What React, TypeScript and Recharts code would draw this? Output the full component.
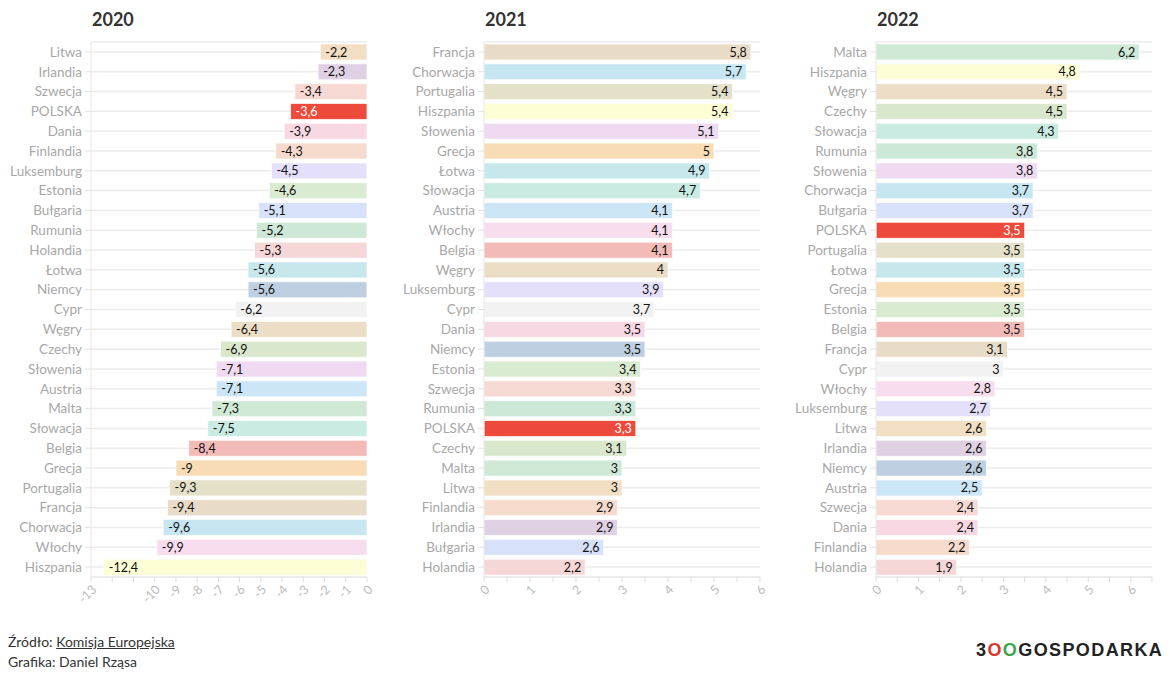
import { BarChart, Bar, XAxis, YAxis, CartesianGrid, Cell, LabelList } from 'recharts'

const countries2020 = ['Litwa', 'Irlandia', 'Szwecja', 'POLSKA', 'Dania', 'Finlandia', 'Luksemburg', 'Estonia', 'Bułgaria', 'Rumunia', 'Holandia', 'Łotwa', 'Niemcy', 'Cypr', 'Węgry', 'Czechy', 'Słowenia', 'Austria', 'Malta', 'Słowacja', 'Belgia', 'Grecja', 'Portugalia', 'Francja', 'Chorwacja', 'Włochy', 'Hiszpania']
const values2020 = [-2.2, -2.3, -3.4, -3.6, -3.9, -4.3, -4.5, -4.6, -5.1, -5.2, -5.3, -5.6, -5.6, -6.2, -6.4, -6.9, -7.1, -7.1, -7.3, -7.5, -8.4, -9, -9.3, -9.4, -9.6, -9.9, -12.4]

const countries2021 = ['Francja', 'Chorwacja', 'Portugalia', 'Hiszpania', 'Słowenia', 'Grecja', 'Łotwa', 'Słowacja', 'Austria', 'Włochy', 'Belgia', 'Węgry', 'Luksemburg', 'Cypr', 'Dania', 'Niemcy', 'Estonia', 'Szwecja', 'Rumunia', 'POLSKA', 'Czechy', 'Malta', 'Litwa', 'Finlandia', 'Irlandia', 'Bułgaria', 'Holandia']
const values2021 = [5.8, 5.7, 5.4, 5.4, 5.1, 5, 4.9, 4.7, 4.1, 4.1, 4.1, 4, 3.9, 3.7, 3.5, 3.5, 3.4, 3.3, 3.3, 3.3, 3.1, 3, 3, 2.9, 2.9, 2.6, 2.2]

const countries2022 = ['Malta', 'Hiszpania', 'Węgry', 'Czechy', 'Słowacja', 'Rumunia', 'Słowenia', 'Chorwacja', 'Bułgaria', 'POLSKA', 'Portugalia', 'Łotwa', 'Grecja', 'Estonia', 'Belgia', 'Francja', 'Cypr', 'Włochy', 'Luksemburg', 'Litwa', 'Irlandia', 'Niemcy', 'Austria', 'Szwecja', 'Dania', 'Finlandia', 'Holandia']
const values2022 = [6.2, 4.8, 4.5, 4.5, 4.3, 3.8, 3.8, 3.7, 3.7, 3.5, 3.5, 3.5, 3.5, 3.5, 3.5, 3.1, 3, 2.8, 2.7, 2.6, 2.6, 2.6, 2.5, 2.4, 2.4, 2.2, 1.9]

const ticks2020 = [-13, -12, -11, -10, -9, -8, -7, -6, -5, -4, -3, -2, -1, 0]
const hidden2020 = [-12, -11]
const ticks2021 = [0, 0.5, 1, 1.5, 2, 2.5, 3, 3.5, 4, 4.5, 5, 5.5, 6]
const ticks2022 = [0, 0.5, 1, 1.5, 2, 2.5, 3, 3.5, 4, 4.5, 5, 5.5, 6, 6.5]

// kolory krajów (te same we wszystkich panelach)
const colors: Record<string, string> = {
  Litwa: '#f2dec3',
  Irlandia: '#e0d0e3',
  Szwecja: '#f7d9d3',
  POLSKA: '#ee4a3b',
  Dania: '#f8d8e2',
  Finlandia: '#f6dbcd',
  Luksemburg: '#e4e0fb',
  Estonia: '#d9ebd0',
  Bułgaria: '#d7e2fa',
  Rumunia: '#cde8d7',
  Holandia: '#f6d7d8',
  Łotwa: '#c6e7ec',
  Niemcy: '#bdcfe0',
  Cypr: '#f2f2f2',
  Węgry: '#ecdec6',
  Czechy: '#d9e8cd',
  Słowenia: '#efdaf2',
  Austria: '#cce6f8',
  Malta: '#d0e8d6',
  Słowacja: '#c9ebe1',
  Belgia: '#f2bbb7',
  Grecja: '#f8dcb5',
  Portugalia: '#e4e1c8',
  Francja: '#e8dcc8',
  Chorwacja: '#c6e6f1',
  Włochy: '#f7dded',
  Hiszpania: '#fdfdd6',
}

const FONT = 'Lato, "Source Sans Pro", sans-serif'
const fmt = (v: number) => String(v).replace('.', ',')

function build(names: string[], values: number[]) {
  return names.map((name, i) => ({ name, value: values[i] }))
}

function ValueLabel(props: any) {
  const { x, y, width, height, value, index, names, side } = props
  const left = Math.min(x, x + width)
  const right = Math.max(x, x + width)
  const isPl = names[index] === 'POLSKA'
  return (
    <text
      x={side === 'start' ? left + 5 : right - 4}
      y={y + height / 2}
      dy="0.36em"
      textAnchor={side === 'start' ? 'start' : 'end'}
      fontSize={12.5}
      fontFamily={FONT}
      fill={isPl ? '#fff' : '#111'}
    >
      {fmt(value)}
    </text>
  )
}

interface PanelProps {
  title: string
  names: string[]
  values: number[]
  domain: [number, number]
  ticks: number[]
  tickFmt: (v: number) => string
  left: number
  width: number
  yWidth: number
  rightMargin: number
  side: 'start' | 'end'
}

function Panel({ title, names, values, domain, ticks, tickFmt, left, width, yWidth, rightMargin, side }: PanelProps) {
  const data = build(names, values)
  return (
    <div style={{ position: 'absolute', left, top: 0, width, height: 630 }}>
      <div
        style={{
          position: 'absolute',
          left: yWidth + 1,
          top: 8,
          fontFamily: FONT,
          fontWeight: 700,
          fontSize: 18,
          color: '#333',
        }}
      >
        {title}
      </div>
      <BarChart
        width={width}
        height={630}
        data={data}
        layout="vertical"
        margin={{ top: 42, right: rightMargin, bottom: 23, left: 0 }}
        barCategoryGap={2}
      >
        <CartesianGrid vertical={false} stroke="#ececec" strokeWidth={1.5} />
        <XAxis
          type="number"
          domain={domain}
          ticks={ticks}
          interval={0}
          height={30}
          tickFormatter={tickFmt}
          axisLine={{ stroke: '#e8e8e8' }}
          tickLine={{ stroke: '#ddd' }}
          tickSize={5}
          angle={-45}
          textAnchor="end"
          tick={{ fill: '#bbb', fontSize: 12.5, fontFamily: FONT }}
          allowDataOverflow
        />
        <YAxis
          type="category"
          dataKey="name"
          width={yWidth}
          interval={0}
          axisLine={{ stroke: '#e6e6e6' }}
          tickLine={{ stroke: '#e2e2e2' }}
          tickSize={6}
          tickMargin={3}
          tick={{ fill: '#a8a8a8', fontSize: 13.5, fontFamily: FONT }}
        />
        <Bar dataKey="value" isAnimationActive={false} stroke="rgba(255,255,255,0.7)" strokeWidth={1}>
          {data.map((d) => (
            <Cell key={d.name} fill={colors[d.name]} />
          ))}
          <LabelList dataKey="value" content={(p: any) => <ValueLabel {...p} names={names} side={side} />} />
        </Bar>
      </BarChart>
    </div>
  )
}

export default function App() {
  return (
    <div style={{ position: 'absolute', left: 0, top: 0, width: 1170, height: 674, background: '#fff', overflow: 'hidden' }}>
      <Panel
        title="2020"
        names={countries2020}
        values={values2020}
        domain={[-13, 0]}
        ticks={ticks2020}
        tickFmt={(v) => (hidden2020.includes(v) ? '' : String(v))}
        left={0}
        width={380}
        yWidth={91}
        rightMargin={13}
        side="start"
      />
      <Panel
        title="2021"
        names={countries2021}
        values={values2021}
        domain={[0, 6]}
        ticks={ticks2021}
        tickFmt={(v) => (Number.isInteger(v) ? String(v) : '')}
        left={390}
        width={380}
        yWidth={94}
        rightMargin={10}
        side="end"
      />
      <Panel
        title="2022"
        names={countries2022}
        values={values2022}
        domain={[0, 6.5]}
        ticks={ticks2022}
        tickFmt={(v) => (Number.isInteger(v) ? String(v) : '')}
        left={780}
        width={390}
        yWidth={96}
        rightMargin={18}
        side="end"
      />
      <div style={{ position: 'absolute', left: 8, top: 632, fontFamily: FONT, fontSize: 14, color: '#333', lineHeight: '20px' }}>
        <div>
          Źródło: <span style={{ textDecoration: 'underline' }}>Komisja Europejska</span>
        </div>
        <div>Grafika: Daniel Rząsa</div>
      </div>
      <div
        style={{
          position: 'absolute',
          left: 976,
          top: 639,
          fontFamily: '"Liberation Sans", Arial, sans-serif',
          fontSize: 18,
          fontWeight: 700,
          letterSpacing: 1.4,
          lineHeight: '22px',
          color: '#222',
          whiteSpace: 'nowrap',
        }}
      >
        3<span style={{ color: '#e0322b' }}>O</span>
        <span style={{ color: '#3aa64a' }}>O</span>GOSPODARKA
      </div>
    </div>
  )
}
